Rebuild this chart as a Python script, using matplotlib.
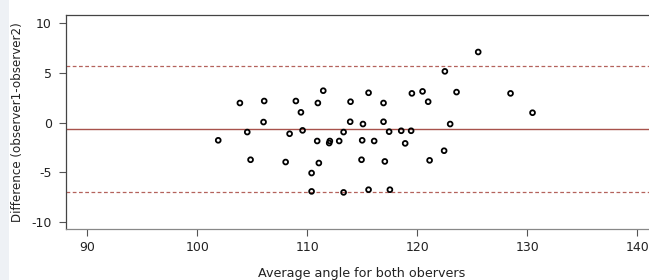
import matplotlib
matplotlib.use("Agg")
import matplotlib.pyplot as plt
from matplotlib.patches import Rectangle

avg_angle = [101.91, 103.88, 104.55, 104.85, 106.09, 106.03, 108.04, 108.40, 108.97, 109.43,
             109.58, 110.40, 110.40, 110.97, 110.91, 111.06, 111.46, 112.06, 112.00, 112.91,
             113.31, 113.31, 113.94, 113.91, 114.94, 115.00, 115.07, 115.58, 115.58, 116.09,
             116.94, 116.94, 117.06, 117.45, 117.52, 118.55, 118.91, 119.45, 119.52, 120.49,
             121.00, 121.13, 122.45, 122.52, 123.00, 123.58, 125.55, 128.49, 130.49]
difference = [-1.79, 1.97, -0.96, -3.75, 2.17, 0.05, -3.98, -1.13, 2.17, 1.03,
              -0.79, -5.09, -6.94, 1.97, -1.86, -4.08, 3.21, -1.86, -2.07, -1.86,
              -0.96, -7.04, 2.10, 0.08, -3.75, -1.79, -0.15, 3.00, -6.77, -1.86,
              1.97, 0.08, -3.92, -0.92, -6.77, -0.83, -2.10, -0.83, 2.94, 3.14,
              2.10, -3.81, -2.84, 5.16, -0.15, 3.07, 7.11, 2.94, 0.99]
mean_diff = -0.69
upper_loa = 5.67
lower_loa = -7.04
x_ticks = [90, 100, 110, 120, 130, 140]
y_ticks = [-10, -5, 0, 5, 10]

W, H = 649, 280
fig = plt.figure(figsize=(W / 100, H / 100), dpi=100)
fig.patches.append(Rectangle((0, 0), 9 / W, 1, transform=fig.transFigure,
                             facecolor="#eef1f5", edgecolor="none", zorder=0))

left, right, top, bottom = 65.7, 658, 15, 228.7
ax = fig.add_axes([left / W, 1 - bottom / H, (right - left) / W, (bottom - top) / H])
ax.set_xlim(88.04, 141.9)
ax.set_ylim(-10.7, 10.84)

ax.axhline(mean_diff, color="#a8524c", lw=1.0, zorder=1)
ax.axhline(upper_loa, color="#b4625c", lw=0.9, ls=(0, (3, 2)), zorder=1)
ax.axhline(lower_loa, color="#b4625c", lw=0.9, ls=(0, (3, 2)), zorder=1)

ax.scatter(avg_angle, difference, s=12, facecolors="none", edgecolors="black",
           linewidths=1.3, zorder=3)

ax.set_xticks(x_ticks)
ax.set_yticks(y_ticks)
ax.set_xticklabels([str(v) for v in x_ticks])
ax.set_yticklabels([str(v) for v in y_ticks])
ax.tick_params(axis="both", labelsize=9, length=5, width=0.8, color="#555555",
               labelcolor="#222222")
ax.tick_params(axis="y", pad=5)
ax.tick_params(axis="x", pad=4)

for side in ["top", "left", "right"]:
    ax.spines[side].set_color("#444444")
    ax.spines[side].set_linewidth(0.9)
ax.spines["bottom"].set_color("#888888")
ax.spines["bottom"].set_linewidth(0.9)

fig.text((left + right) / 2 / W, 1 - 273.5 / H, "Average angle for both obervers",
         ha="center", va="center", fontsize=9.2, color="#222222")
fig.text(18 / W, 1 - 122 / H, "Difference (observer1-observer2)", rotation=90,
         ha="center", va="center", fontsize=8.6, color="#222222")

fig.savefig("out.png", dpi=100)
